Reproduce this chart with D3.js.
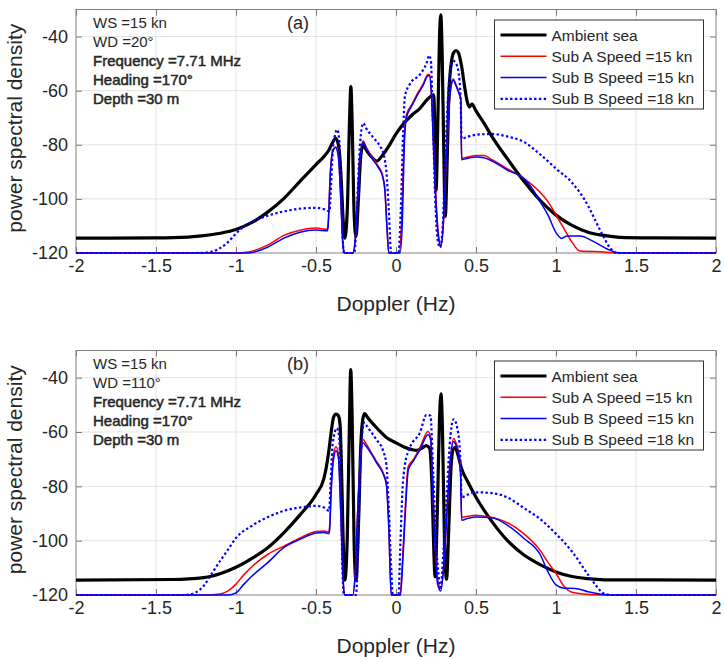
<!DOCTYPE html>
<html>
<head>
<meta charset="utf-8">
<script src="https://cdn.jsdelivr.net/npm/d3@7"></script>
<style>
    body { margin: 0; background: #fff; }
    text { font-family: "Liberation Sans", Arial, Helvetica, sans-serif; fill: #262626; }
</style>
</head>
<body>
<svg id="chart" width="726" height="659"></svg>
<script>
// axis ticks
const xTicks = [-2, -1.5, -1, -0.5, 0, 0.5, 1, 1.5, 2];
const yTicks = [-120, -100, -80, -60, -40];
const seriesNames = ["Ambient sea", "Sub A Speed =15 kn", "Sub B Speed =15 kn", "Sub B Speed =18 kn"];

// text boxes
const notesA = ["WS =15 kn", "WD =20\u00b0", "Frequency =7.71 MHz", "Heading =170\u00b0", "Depth =30 m"];
const notesB = ["WS =15 kn", "WD =110\u00b0", "Frequency =7.71 MHz", "Heading =170\u00b0", "Depth =30 m"];

// ---- panel (a), WD = 20 deg : [doppler Hz, psd]
const ambientA = [[-2,-114.5],[-1.5,-114.4],[-1.3,-114.1],[-1.2,-113.6],[-1.1,-112.7],[-1.0,-111.3],[-0.9,-108.7],[-0.8,-104.8],[-0.7,-99.8],[-0.6,-93.5],[-0.5,-87.3],[-0.45,-84.3],[-0.42,-82],[-0.395,-79],[-0.378,-77.5],[-0.36,-80],[-0.345,-90],[-0.33,-108],[-0.32,-114.5],[-0.305,-105],[-0.29,-70],[-0.282,-58.5],[-0.274,-72],[-0.262,-105],[-0.25,-114],[-0.235,-100],[-0.22,-84],[-0.205,-80],[-0.19,-81.5],[-0.16,-84],[-0.12,-86],[-0.08,-83.5],[-0.04,-80],[0,-76],[0.05,-72],[0.1,-69],[0.15,-66.5],[0.2,-63],[0.235,-61.5],[0.245,-80],[0.25,-97],[0.262,-70],[0.272,-40],[0.28,-32],[0.288,-45],[0.298,-80],[0.308,-106.5],[0.318,-90],[0.33,-62],[0.345,-50],[0.36,-46],[0.375,-45.2],[0.39,-46],[0.41,-51],[0.43,-59],[0.445,-64],[0.46,-66],[0.475,-65],[0.5,-67.5],[0.55,-72],[0.6,-77],[0.7,-85.5],[0.8,-93.5],[0.9,-100.5],[1.0,-106],[1.1,-109.8],[1.2,-112.3],[1.3,-113.5],[1.4,-114.2],[1.6,-114.4],[2,-114.5]];
const subAA = [[-2,-120],[-1.0,-120],[-0.95,-119.8],[-0.9,-119.3],[-0.8,-117],[-0.7,-113.5],[-0.6,-111.6],[-0.5,-110.8],[-0.43,-111.2],[-0.425,-110],[-0.41,-90],[-0.395,-82],[-0.375,-80.8],[-0.36,-84],[-0.345,-100],[-0.33,-118],[-0.32,-120],[-0.27,-120],[-0.255,-115],[-0.24,-100],[-0.225,-85],[-0.205,-78.6],[-0.185,-81],[-0.15,-84.5],[-0.11,-88],[-0.085,-91],[-0.07,-96],[-0.055,-112],[-0.045,-120],[0.02,-120],[0.035,-108],[0.05,-80],[0.065,-69],[0.1,-65],[0.13,-61.5],[0.17,-57.5],[0.2,-54],[0.21,-54],[0.222,-62],[0.235,-80],[0.25,-100],[0.265,-113],[0.28,-117],[0.295,-110],[0.31,-90],[0.33,-67],[0.345,-58],[0.358,-55.7],[0.37,-57],[0.39,-60],[0.405,-63],[0.41,-85],[0.45,-84.5],[0.5,-84],[0.55,-84],[0.6,-85.5],[0.7,-89],[0.8,-92.5],[0.9,-97.5],[0.95,-101],[1.0,-106],[1.05,-111],[1.1,-116],[1.15,-119.3],[1.3,-119.6],[1.4,-120],[2,-120]];
const subBA = [[-2,-120],[-0.95,-120],[-0.9,-119.8],[-0.8,-117.8],[-0.7,-114.5],[-0.6,-112.3],[-0.5,-111.5],[-0.43,-111.8],[-0.425,-110.5],[-0.41,-90],[-0.395,-82.5],[-0.378,-81],[-0.36,-84.5],[-0.345,-100],[-0.33,-118],[-0.32,-120],[-0.27,-120],[-0.255,-115],[-0.24,-100],[-0.225,-85],[-0.205,-79.2],[-0.185,-81.5],[-0.15,-85],[-0.11,-88.5],[-0.085,-91.5],[-0.07,-96.5],[-0.055,-112],[-0.045,-120],[0.025,-120],[0.04,-108],[0.052,-80],[0.065,-70],[0.1,-65.5],[0.13,-62],[0.17,-58],[0.2,-54.5],[0.21,-54.5],[0.222,-62],[0.235,-82],[0.25,-102],[0.265,-114],[0.28,-117.5],[0.295,-110],[0.31,-90],[0.33,-67],[0.345,-58],[0.358,-56],[0.37,-57.5],[0.39,-60.5],[0.405,-63.5],[0.41,-85.5],[0.45,-85],[0.5,-84.5],[0.55,-84.8],[0.6,-86],[0.7,-89.5],[0.8,-92.5],[0.85,-96],[0.9,-101],[0.95,-106],[1.0,-112.5],[1.035,-114.6],[1.07,-113.7],[1.15,-113.7],[1.23,-115.6],[1.32,-118.5],[1.38,-119.8],[1.45,-120],[2,-120]];
const subB18A = [[-2,-120],[-1.25,-120],[-1.15,-119.5],[-1.1,-118.2],[-1.05,-116],[-1.0,-112.8],[-0.95,-110.2],[-0.9,-108.5],[-0.8,-106.2],[-0.7,-104.6],[-0.6,-103.6],[-0.5,-103.3],[-0.45,-103.8],[-0.415,-104.6],[-0.41,-100],[-0.395,-82],[-0.38,-76],[-0.367,-74.4],[-0.355,-78],[-0.345,-92],[-0.335,-112],[-0.325,-120],[-0.26,-120],[-0.25,-112],[-0.238,-95],[-0.225,-80],[-0.205,-72],[-0.185,-74],[-0.14,-77.5],[-0.1,-80.5],[-0.075,-84],[-0.06,-90],[-0.045,-104],[-0.03,-120],[0.015,-120],[0.03,-104],[0.045,-75],[0.056,-62],[0.087,-57.5],[0.15,-54],[0.19,-50],[0.208,-47],[0.218,-49],[0.23,-70],[0.245,-100],[0.26,-115],[0.275,-118],[0.29,-112],[0.305,-90],[0.325,-62],[0.345,-51],[0.358,-49],[0.375,-50],[0.39,-53],[0.404,-63],[0.41,-77.7],[0.45,-77],[0.5,-76.3],[0.6,-76],[0.7,-77],[0.8,-79],[0.9,-83.5],[1.0,-88.8],[1.1,-94],[1.2,-102.5],[1.25,-108.5],[1.3,-114.3],[1.34,-118.3],[1.38,-120],[2,-120]];

// ---- panel (b), WD = 110 deg
const ambientB = [[-2,-114.5],[-1.4,-114.3],[-1.2,-113.6],[-1.1,-112.2],[-1.0,-109.8],[-0.9,-106.5],[-0.8,-102.5],[-0.7,-97],[-0.6,-90.5],[-0.5,-83],[-0.45,-77],[-0.43,-71],[-0.42,-67],[-0.405,-60],[-0.39,-54.5],[-0.375,-53.4],[-0.36,-54],[-0.35,-57],[-0.34,-75],[-0.33,-100],[-0.32,-114.5],[-0.305,-100],[-0.292,-60],[-0.283,-37],[-0.274,-55],[-0.262,-100],[-0.25,-114.5],[-0.235,-95],[-0.22,-65],[-0.205,-54.5],[-0.195,-53.2],[-0.18,-54.5],[-0.14,-57.2],[-0.1,-59.8],[-0.06,-62],[0,-64],[0.05,-65.5],[0.1,-66.5],[0.13,-66.8],[0.16,-66],[0.19,-65],[0.21,-66],[0.225,-80],[0.237,-105],[0.244,-113.3],[0.258,-90],[0.272,-55],[0.281,-46],[0.29,-58],[0.303,-100],[0.316,-114.2],[0.33,-95],[0.345,-72],[0.36,-66],[0.37,-65.7],[0.385,-68],[0.41,-73.5],[0.45,-78.5],[0.5,-84],[0.6,-93],[0.7,-100.2],[0.8,-105.3],[0.9,-108.8],[1.0,-111.5],[1.1,-113.2],[1.2,-114],[1.3,-114.4],[2,-114.5]];
const subAB = [[-2,-120],[-1.2,-120],[-1.1,-119.6],[-1.05,-118.5],[-1.0,-116],[-0.95,-112.5],[-0.9,-109.5],[-0.8,-105],[-0.7,-102],[-0.6,-99],[-0.5,-96.6],[-0.45,-96.4],[-0.42,-96.8],[-0.415,-95],[-0.405,-80],[-0.39,-68],[-0.375,-65.4],[-0.36,-68],[-0.345,-90],[-0.33,-115],[-0.32,-120],[-0.27,-120],[-0.255,-112],[-0.24,-90],[-0.225,-72],[-0.205,-62.8],[-0.19,-64],[-0.16,-67],[-0.12,-71],[-0.08,-75],[-0.06,-79],[-0.045,-95],[-0.03,-120],[0.025,-120],[0.04,-108],[0.056,-90],[0.075,-73],[0.11,-70],[0.15,-65.7],[0.2,-59.8],[0.217,-62],[0.23,-80],[0.244,-100],[0.26,-114],[0.28,-117.5],[0.3,-108],[0.32,-88],[0.337,-72],[0.36,-62.4],[0.375,-64],[0.39,-67],[0.404,-75],[0.41,-91.5],[0.45,-91],[0.5,-90.6],[0.55,-91],[0.6,-91.5],[0.7,-93.5],[0.8,-97.5],[0.9,-103.5],[0.95,-108],[1.0,-112],[1.05,-116.8],[1.1,-119],[1.17,-119.6],[1.3,-120],[2,-120]];
const subBB = [[-2,-120],[-1.05,-120],[-1.0,-119.2],[-0.95,-116],[-0.9,-113],[-0.8,-108],[-0.7,-102.5],[-0.6,-99.5],[-0.5,-97.2],[-0.45,-97],[-0.42,-97.4],[-0.415,-96],[-0.405,-82],[-0.39,-70],[-0.375,-66.9],[-0.36,-69.5],[-0.345,-90],[-0.33,-115],[-0.32,-120],[-0.27,-120],[-0.255,-112],[-0.24,-90],[-0.225,-73],[-0.205,-64],[-0.19,-65],[-0.16,-67.5],[-0.12,-71.5],[-0.08,-75.5],[-0.06,-79.5],[-0.045,-95],[-0.03,-120],[0.028,-120],[0.042,-108],[0.058,-90],[0.077,-74],[0.11,-70.5],[0.15,-66.5],[0.2,-61],[0.217,-63],[0.23,-82],[0.244,-102],[0.26,-116],[0.28,-118.5],[0.3,-108],[0.32,-88],[0.337,-72],[0.36,-63.5],[0.375,-65],[0.39,-68],[0.404,-76],[0.41,-92.5],[0.45,-91.8],[0.5,-91.3],[0.6,-91.6],[0.7,-94.5],[0.8,-99.2],[0.9,-105],[0.95,-111.5],[1.0,-116.3],[1.05,-117.5],[1.12,-117.6],[1.2,-118.8],[1.28,-119.7],[1.35,-120],[2,-120]];
const subB18B = [[-2,-120],[-1.32,-120],[-1.25,-119],[-1.2,-116.5],[-1.15,-112],[-1.1,-107.5],[-1.05,-103.3],[-1.0,-99],[-0.9,-94.5],[-0.8,-91.3],[-0.7,-89],[-0.6,-87.8],[-0.5,-87.2],[-0.45,-87.8],[-0.418,-89],[-0.41,-80],[-0.395,-64],[-0.37,-58.6],[-0.355,-62],[-0.345,-80],[-0.335,-110],[-0.325,-120],[-0.25,-120],[-0.238,-105],[-0.225,-75],[-0.21,-60],[-0.198,-56.5],[-0.18,-58],[-0.12,-63],[-0.08,-67],[-0.06,-72],[-0.045,-88],[-0.03,-110],[-0.02,-120],[0.015,-120],[0.028,-100],[0.04,-82],[0.056,-72],[0.087,-65.7],[0.15,-60.2],[0.19,-53.7],[0.215,-54],[0.233,-75.4],[0.25,-100],[0.265,-112],[0.278,-118],[0.295,-105],[0.315,-85],[0.335,-65],[0.36,-55.3],[0.39,-60.8],[0.404,-73],[0.41,-84],[0.45,-83],[0.5,-82.2],[0.6,-82.5],[0.7,-84.2],[0.8,-88],[0.9,-92],[1.0,-97.5],[1.1,-104],[1.2,-112.5],[1.25,-116.5],[1.3,-119.5],[1.35,-120],[2,-120]];

// line styles follow the legend order
const styles = [
    {color: "#000000", width: 3.2, dash: null},
    {color: "#ff0000", width: 1.5, dash: null},
    {color: "#0000ff", width: 1.5, dash: null},
    {color: "#0000ff", width: 2.2, dash: "2.4,2.4"}
];

const svg = d3.select("#chart");
const left = 76, right = 716;

function drawPanel(top, bottom, series, notes, tag) {
    let g = svg.append("g");
    let x = d3.scaleLinear().domain([-2, 2]).range([left, right]);
    let y = d3.scaleLinear().domain([-120, -30]).range([bottom, top]);

    // grid
    g.append("g").selectAll("line").data(xTicks.slice(1, -1)).join("line")
        .attr("x1", d => x(d)).attr("x2", d => x(d))
        .attr("y1", top).attr("y2", bottom)
        .attr("stroke", "#e3e3e3").attr("stroke-width", 1);
    g.append("g").selectAll("line").data(yTicks.slice(1)).join("line")
        .attr("x1", left).attr("x2", right)
        .attr("y1", d => y(d)).attr("y2", d => y(d))
        .attr("stroke", "#e3e3e3").attr("stroke-width", 1);

    // axes (ticks point inwards like matlab)
    let xAxis = d3.axisBottom(x).tickValues(xTicks).tickSize(-6).tickSizeOuter(0).tickPadding(6)
        .tickFormat(d => String(d));
    let yAxis = d3.axisLeft(y).tickValues(yTicks).tickSize(-6).tickSizeOuter(0).tickPadding(8)
        .tickFormat(d => String(d));
    let gx = g.append("g").attr("transform", "translate(0," + bottom + ")").call(xAxis);
    let gy = g.append("g").attr("transform", "translate(" + left + ",0)").call(yAxis);
    g.append("g").attr("transform", "translate(0," + top + ")")
        .call(d3.axisTop(x).tickValues(xTicks).tickSize(-6).tickSizeOuter(0).tickFormat(""));
    g.append("g").attr("transform", "translate(" + right + ",0)")
        .call(d3.axisRight(y).tickValues(yTicks).tickSize(-6).tickSizeOuter(0).tickFormat(""));
    g.selectAll(".domain").remove();
    g.selectAll(".tick line").attr("stroke", "#7a7a7a");
    gx.selectAll("text").style("font-size", "18px").attr("fill", "#262626");
    gy.selectAll("text").style("font-size", "18px").attr("fill", "#262626");

    g.append("rect")
        .attr("x", left).attr("y", top)
        .attr("width", right - left).attr("height", bottom - top)
        .attr("fill", "none").attr("stroke", "#808080").attr("stroke-width", 1);

    // curves
    let line = d3.line().x(d => x(d[0])).y(d => y(d[1])).curve(d3.curveMonotoneX);
    series.forEach((s, i) => {
        g.append("path").datum(s)
            .attr("d", line)
            .attr("fill", "none")
            .attr("stroke", styles[i].color)
            .attr("stroke-width", styles[i].width)
            .attr("stroke-linejoin", "round")
            .attr("stroke-dasharray", styles[i].dash);
    });

    // labels
    g.append("text")
        .attr("x", (left + right) / 2).attr("y", bottom + 58)
        .attr("text-anchor", "middle").style("font-size", "21px")
        .text("Doppler (Hz)");
    g.append("text")
        .attr("transform", "translate(22," + ((top + bottom) / 2 - 3) + ") rotate(-90)")
        .attr("text-anchor", "middle").style("font-size", "21px")
        .text("power spectral density");

    // notes box, the last three lines look a bit heavier in the source
    notes.forEach((t, i) => {
        let tx = g.append("text")
            .attr("x", 93).attr("y", top + 18.5 + i * 19)
            .style("font-size", "15px")
            .text(t);
        if (i >= 2) tx.attr("stroke", "#262626").attr("stroke-width", 0.5);
    });
    g.append("text").attr("x", 287).attr("y", top + 19.5)
        .style("font-size", "18px").text(tag);

    // legend
    let lg = g.append("g").attr("transform", "translate(494.5," + (top + 10.5) + ")");
    lg.append("rect").attr("width", 209).attr("height", 89)
        .attr("fill", "#fff").attr("stroke", "#333").attr("stroke-width", 1);
    seriesNames.forEach((n, i) => {
        let yy = 15 + i * 21.3;
        lg.append("line")
            .attr("x1", 6).attr("x2", 52).attr("y1", yy).attr("y2", yy)
            .attr("stroke", styles[i].color)
            .attr("stroke-width", styles[i].width)
            .attr("stroke-dasharray", styles[i].dash);
        lg.append("text").attr("x", 57).attr("y", yy + 5.5)
            .style("font-size", "15.5px").text(n);
    });
}

drawPanel(9.5, 253, [ambientA, subAA, subBA, subB18A], notesA, "(a)");
drawPanel(350.5, 595, [ambientB, subAB, subBB, subB18B], notesB, "(b)");
</script>
</body>
</html>
